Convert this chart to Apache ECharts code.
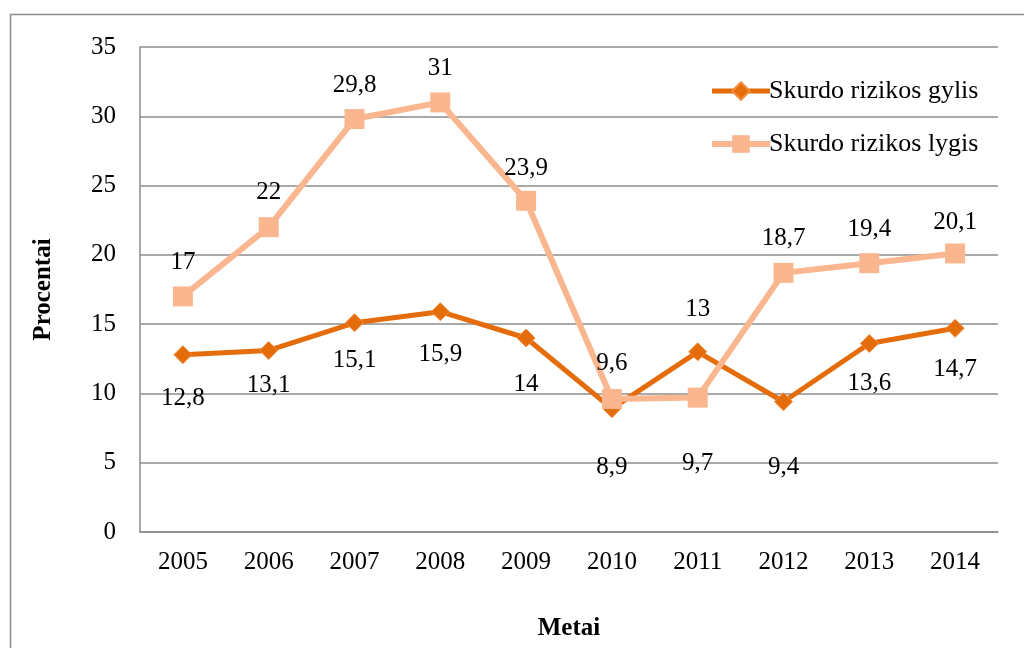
<!DOCTYPE html>
<html><head><meta charset="utf-8">
<script src="https://cdn.jsdelivr.net/npm/echarts@6/dist/echarts.min.js"></script>
<style>html,body{margin:0;padding:0;background:#fff}#c{width:1024px;height:648px}</style>
</head><body><div id="c"></div>
<script>
const years = ['2005','2006','2007','2008','2009','2010','2011','2012','2013','2014'];
const gylis = [12.8, 13.1, 15.1, 15.9, 14, 8.9, 13, 9.4, 13.6, 14.7];
const lygis = [17, 22, 29.8, 31, 23.9, 9.6, 9.7, 18.7, 19.4, 20.1];
const gylisLabelPos = ['bottom','bottom','bottom','bottom','bottom','bottom','top','bottom','bottom','bottom'];
const gylisLabelDist = [22, 13, 16, 21, 24, 37, 20, 44, 18, 19];
const lygisLabelPos = ['top','top','top','top','top','top','bottom','top','top','top'];
const lygisLabelDist = [11, 12, 11, 11, 10, 13, 43, 12, 11, 9];
const seriesNames = ['Skurdo rizikos gylis', 'Skurdo rizikos lygis'];

const FONT = '"Liberation Serif", "Times New Roman", serif';
const FS = 25;
const fmt = v => String(v).replace('.', ',');
const chart = echarts.init(document.getElementById('c'), null, {renderer: 'canvas'});

function mk(vals, pos, dist) {
  return vals.map((v, i) => ({value: v, label: {position: pos[i], distance: dist[i]}}));
}

chart.setOption({
  animation: false,
  textStyle: {fontFamily: FONT},
  graphic: [{
    type: 'rect', left: 8, top: 12, z: -1,
    shape: {width: 1040, height: 680},
    style: {fill: 'none', stroke: '#8c8c8c', lineWidth: 1.5}
  }],
  grid: {left: 140, right: 26, top: 47, bottom: 116, containLabel: false},
  legend: {
    orient: 'vertical', left: 704, top: 73,
    itemWidth: 58, itemHeight: 22, itemGap: 27,
    textStyle: {fontFamily: FONT, fontSize: 26, color: '#000', padding: [0, 0, 0, -6]},
    data: [
      {name: seriesNames[0], lineStyle: {width: 5}},
      {name: seriesNames[1], lineStyle: {width: 6}}
    ]
  },
  xAxis: {
    type: 'category', data: years, boundaryGap: true,
    name: 'Metai', nameLocation: 'middle', nameGap: 84,
    nameTextStyle: {fontFamily: FONT, fontSize: FS, fontWeight: 'bold', color: '#000'},
    axisLine: {lineStyle: {color: '#8c8c8c', width: 1.5}},
    axisTick: {show: false},
    axisLabel: {fontFamily: FONT, fontSize: FS, color: '#000', margin: 18}
  },
  yAxis: {
    type: 'value', min: 0, max: 35, interval: 5,
    name: 'Procentai', nameLocation: 'middle', nameGap: 84, nameRotate: 90,
    nameTextStyle: {fontFamily: FONT, fontSize: FS, fontWeight: 'bold', color: '#000'},
    axisLine: {show: true, lineStyle: {color: '#8c8c8c', width: 1.5}},
    axisTick: {show: false},
    splitLine: {lineStyle: {color: '#8c8c8c', width: 1.5}},
    axisLabel: {fontFamily: FONT, fontSize: FS, color: '#000', margin: 24}
  },
  series: [
    {
      name: seriesNames[0], type: 'line', data: mk(gylis, gylisLabelPos, gylisLabelDist),
      symbol: 'diamond', symbolSize: 18,
      lineStyle: {color: '#E46C0A', width: 5},
      itemStyle: {color: '#E46C0A', borderColor: '#F28C3C', borderWidth: 1},
      label: {show: true, formatter: p => fmt(p.value), fontFamily: FONT, fontSize: FS, color: '#000'},
      z: 2
    },
    {
      name: seriesNames[1], type: 'line', data: mk(lygis, lygisLabelPos, lygisLabelDist),
      symbol: 'rect', symbolSize: 20,
      lineStyle: {color: '#FAB78F', width: 6},
      itemStyle: {color: '#FAB78F'},
      label: {show: true, formatter: p => fmt(p.value), fontFamily: FONT, fontSize: FS, color: '#000'},
      z: 3
    }
  ]
});
</script></body></html>
